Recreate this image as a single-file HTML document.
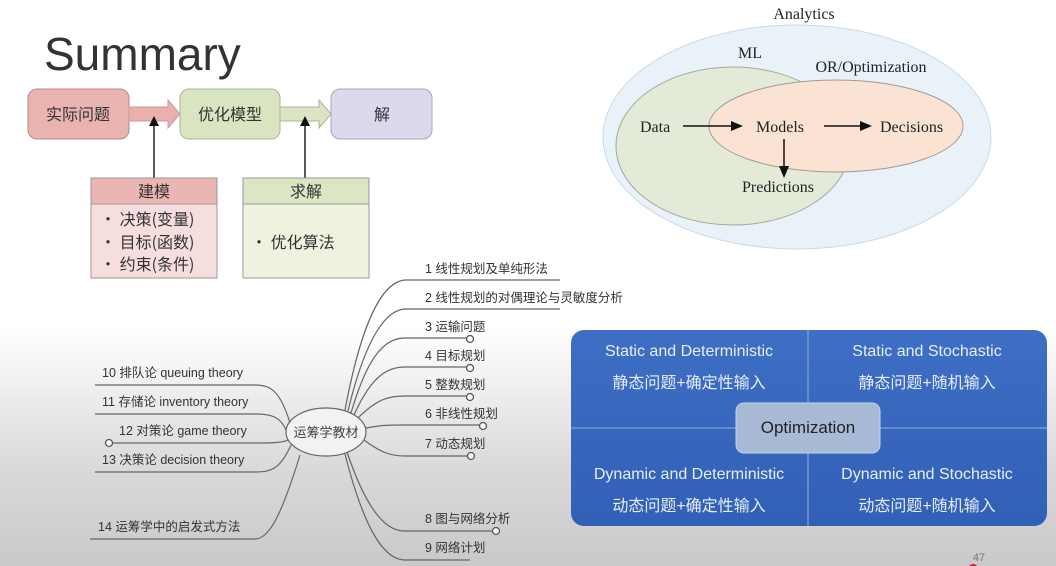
<!DOCTYPE html>
<html><head><meta charset="utf-8"><style>
body{margin:0;width:1056px;height:566px;overflow:hidden;background:linear-gradient(#fff 0,#fff 330px,#d9d9d9 470px,#c9c9c9 566px);font-family:"Liberation Sans","Noto Sans CJK SC",sans-serif;}
</style></head><body>
<svg width="1056" height="566" xmlns="http://www.w3.org/2000/svg" style="position:absolute;left:0;top:0">
<defs>
<linearGradient id="bl" x1="0" y1="0" x2="0" y2="1"><stop offset="0" stop-color="#3e6fc4"/><stop offset="1" stop-color="#3160b6"/></linearGradient>
</defs>
<text x="44" y="70" font-size="46" fill="#333" font-family="Liberation Sans,sans-serif">Summary</text>
<!-- top flow -->
<rect x="28" y="89" width="101" height="50" rx="9" fill="#e9b3b0" stroke="#b98a88"/>
<text x="78" y="120" font-size="16" text-anchor="middle" fill="#333" font-family="Noto Sans CJK SC,sans-serif">实际问题</text>
<polygon points="129,107 168,107 168,100 180,114 168,128 168,121 129,121" fill="#eab0ae" stroke="#c99"/>
<rect x="180" y="89" width="100" height="50" rx="9" fill="#d9e4c0" stroke="#a9b690"/>
<text x="230" y="120" font-size="16" text-anchor="middle" fill="#333" font-family="Noto Sans CJK SC,sans-serif">优化模型</text>
<polygon points="280,107 319,107 319,100 331,114 319,128 319,121 280,121" fill="#dbe5c6" stroke="#a9b690"/>
<rect x="331" y="89" width="101" height="50" rx="9" fill="#dcd9ec" stroke="#a8a6bb"/>
<text x="382" y="120" font-size="16" text-anchor="middle" fill="#333" font-family="Noto Sans CJK SC,sans-serif">解</text>
<line x1="154" y1="178" x2="154" y2="124" stroke="#222" stroke-width="1.5"/><polygon points="149,126 159,126 154,116" fill="#111"/>
<line x1="305" y1="178" x2="305" y2="124" stroke="#222" stroke-width="1.5"/><polygon points="300,126 310,126 305,116" fill="#111"/>
<rect x="91" y="178" width="126" height="26" fill="#eab5b3" stroke="#999"/>
<rect x="91" y="204" width="126" height="74" fill="#f7dede" stroke="#999"/>
<text x="154" y="197" font-size="16" text-anchor="middle" fill="#333" font-family="Noto Sans CJK SC,sans-serif">建模</text>
<g font-size="16" fill="#333" font-family="Noto Sans CJK SC,sans-serif">
<text x="100" y="225">•  决策(变量)</text><text x="100" y="248">•  目标(函数)</text><text x="100" y="270">•  约束(条件)</text>
</g>
<rect x="243" y="178" width="126" height="26" fill="#dce6c4" stroke="#999"/>
<rect x="243" y="204" width="126" height="74" fill="#eef3df" stroke="#999"/>
<text x="306" y="197" font-size="16" text-anchor="middle" fill="#333" font-family="Noto Sans CJK SC,sans-serif">求解</text>
<text x="251" y="248" font-size="16" fill="#333" font-family="Noto Sans CJK SC,sans-serif">•  优化算法</text>
<!-- venn -->
<text x="804" y="19" font-size="16" text-anchor="middle" fill="#222" font-family="Liberation Serif,serif">Analytics</text>
<ellipse cx="797" cy="137" rx="194" ry="112" fill="#e9f2f8" stroke="#cdd9e3"/>
<ellipse cx="733" cy="146" rx="117" ry="79" fill="#e3ebd8" stroke="#9faa98"/>
<ellipse cx="836" cy="126" rx="127" ry="46" fill="#fbe3d3" stroke="#a09a98"/>
<text x="750" y="58" font-size="16" text-anchor="middle" fill="#222" font-family="Liberation Serif,serif">ML</text>
<text x="871" y="72" font-size="16" text-anchor="middle" fill="#222" font-family="Liberation Serif,serif">OR/Optimization</text>
<g font-size="16" fill="#222" font-family="Liberation Serif,serif">
<text x="640" y="132">Data</text><text x="756" y="132">Models</text><text x="880" y="132">Decisions</text><text x="742" y="192">Predictions</text>
</g>
<line x1="683" y1="126" x2="733" y2="126" stroke="#111" stroke-width="1.5"/><polygon points="731,121 743,126 731,131" fill="#111"/>
<line x1="824" y1="126" x2="862" y2="126" stroke="#111" stroke-width="1.5"/><polygon points="860,121 872,126 860,131" fill="#111"/>
<line x1="784" y1="139" x2="784" y2="168" stroke="#111" stroke-width="1.5"/><polygon points="779,166 784,178 789,166" fill="#111"/>
<!-- mindmap -->
<g fill="none" stroke="#666" stroke-width="1.2">
<ellipse cx="326" cy="432" rx="40" ry="24" fill="#f2f2f2"/>
<path d="M345,410 C360,330 380,282 405,280 L560,280"/>
<path d="M348,411 C365,340 385,310 405,309 L560,309"/>
<path d="M351,413 C368,355 385,338 405,338 L468,338"/>
<path d="M354,415 C372,375 388,367 405,367 L468,367"/>
<path d="M358,418 C378,398 390,396 405,396 L468,396"/>
<path d="M366,428 C380,425 390,425 405,425 L482,425"/>
<path d="M364,440 C380,452 390,456 405,456 L470,456"/>
<path d="M347,452 C370,520 390,531 405,531 L495,531"/>
<path d="M345,454 C368,545 390,560 405,560 L470,560"/>
<path d="M290,423 C280,390 270,385 255,385 L95,385"/>
<path d="M286,430 C280,416 270,414 255,414 L95,414"/>
<path d="M288,440 C282,443 270,443 255,443 L113,443"/>
<path d="M291,445 C280,470 270,472 255,472 L95,472"/>
<path d="M300,455 C280,520 268,539 255,539 L90,539"/>
</g>
<g fill="#fff" stroke="#555" stroke-width="1.3">
<circle cx="470" cy="339" r="3.5"/><circle cx="470" cy="368" r="3.5"/><circle cx="470" cy="397" r="3.5"/><circle cx="483" cy="426" r="3.5"/><circle cx="471" cy="456" r="3.5"/><circle cx="496" cy="531" r="3.5"/><circle cx="109" cy="443" r="3.5"/>
</g>
<text x="326" y="437" font-size="13" text-anchor="middle" fill="#444" font-family="Noto Sans CJK SC,sans-serif">运筹学教材</text>
<g font-size="12.5" fill="#333" font-family="Liberation Sans,Noto Sans CJK SC,sans-serif">
<text x="425" y="273">1 线性规划及单纯形法</text>
<text x="425" y="302">2 线性规划的对偶理论与灵敏度分析</text>
<text x="425" y="331">3 运输问题</text>
<text x="425" y="360">4 目标规划</text>
<text x="425" y="389">5 整数规划</text>
<text x="425" y="418">6 非线性规划</text>
<text x="425" y="448">7 动态规划</text>
<text x="425" y="523">8 图与网络分析</text>
<text x="425" y="552">9 网络计划</text>
<text x="102" y="377">10 排队论 queuing  theory</text>
<text x="102" y="406">11 存储论 inventory theory</text>
<text x="119" y="435">12 对策论 game theory</text>
<text x="102" y="464">13 决策论 decision theory</text>
<text x="98" y="531">14 运筹学中的启发式方法</text>
</g>
<!-- blue quadrant -->
<rect x="571" y="330" width="476" height="196" rx="13" fill="url(#bl)"/>
<line x1="808" y1="330" x2="808" y2="526" stroke="#8fb0e0" stroke-width="1"/>
<line x1="571" y1="428" x2="1047" y2="428" stroke="#8fb0e0" stroke-width="1"/>
<rect x="736" y="403" width="144" height="50" rx="8" fill="#a9bad6" stroke="#c5d2e6"/>
<text x="808" y="433" font-size="17" text-anchor="middle" fill="#222">Optimization</text>
<g font-size="16" fill="#e8eef8" text-anchor="middle" font-family="Liberation Sans,Noto Sans CJK SC,sans-serif">
<text x="689" y="356">Static and Deterministic</text>
<text x="689" y="388">静态问题+确定性输入</text>
<text x="927" y="356">Static and Stochastic</text>
<text x="927" y="388">静态问题+随机输入</text>
<text x="689" y="479">Dynamic and Deterministic</text>
<text x="689" y="511">动态问题+确定性输入</text>
<text x="927" y="479">Dynamic and Stochastic</text>
<text x="927" y="511">动态问题+随机输入</text>
</g>
<text x="979" y="561" font-size="11" text-anchor="middle" fill="#777">47</text>
<circle cx="973" cy="569" r="5" fill="#d02030"/>
</svg>
</body></html>
